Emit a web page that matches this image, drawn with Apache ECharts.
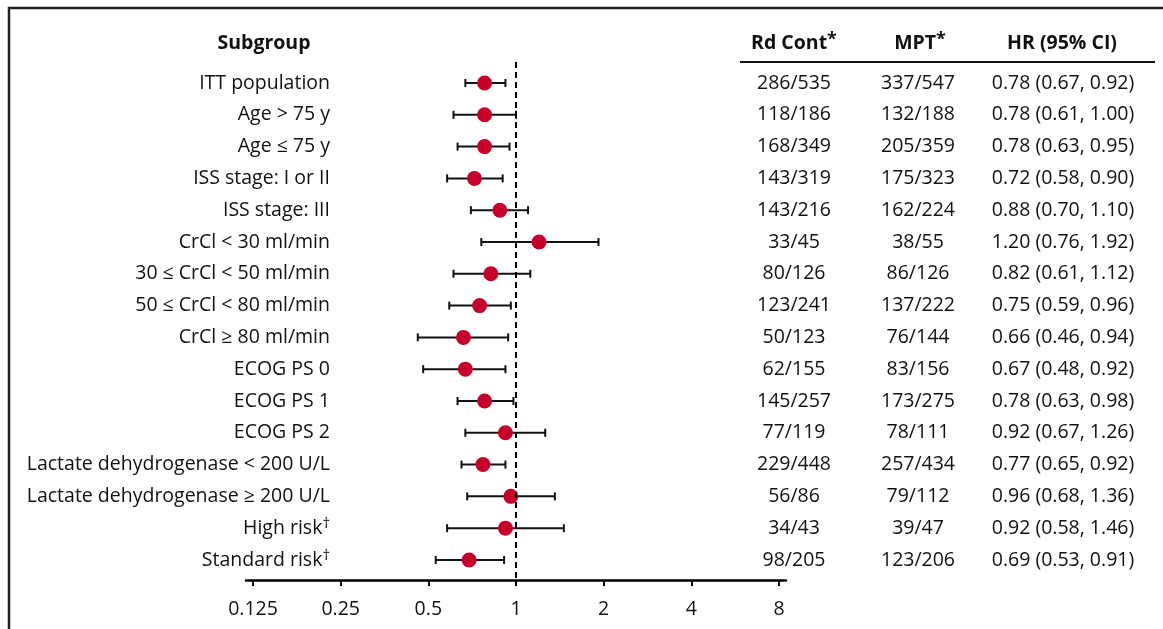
<!DOCTYPE html>
<html><head><meta charset="utf-8">
<script src="https://cdn.jsdelivr.net/npm/echarts@6/dist/echarts.min.js"></script>
<style>html,body{margin:0;padding:0;background:#fff}#c{width:1163px;height:629px}</style>
</head><body><div id="c"></div>
<script>
const subgroups = ['ITT population','Age > 75 y','Age ≤ 75 y','ISS stage: I or II','ISS stage: III','CrCl < 30 ml/min','30 ≤ CrCl < 50 ml/min','50 ≤ CrCl < 80 ml/min','CrCl ≥ 80 ml/min','ECOG PS 0','ECOG PS 1','ECOG PS 2','Lactate dehydrogenase < 200 U/L','Lactate dehydrogenase ≥ 200 U/L','High risk†','Standard risk†'];
const rdCont = ['286/535','118/186','168/349','143/319','143/216','33/45','80/126','123/241','50/123','62/155','145/257','77/119','229/448','56/86','34/43','98/205'];
const mpt = ['337/547','132/188','205/359','175/323','162/224','38/55','86/126','137/222','76/144','83/156','173/275','78/111','257/434','79/112','39/47','123/206'];
const hr = [0.78,0.78,0.78,0.72,0.88,1.20,0.82,0.75,0.66,0.67,0.78,0.92,0.77,0.96,0.92,0.69];
const lo = [0.67,0.61,0.63,0.58,0.70,0.76,0.61,0.59,0.46,0.48,0.63,0.67,0.65,0.68,0.58,0.53];
const hi = [0.92,1.00,0.95,0.90,1.10,1.92,1.12,0.96,0.94,0.92,0.98,1.26,0.92,1.36,1.46,0.91];
const xTicks = [0.125,0.25,0.5,1,2,4,8];
const headers = ['Subgroup','Rd Cont','MPT','HR (95% CI)'];

const FONT = '"Open Sans"';
const FS = 19.5;
const TXT = '#111';
const hrText = hr.map((v,i)=>v.toFixed(2)+' ('+lo[i].toFixed(2)+', '+hi[i].toFixed(2)+')');

const chart = echarts.init(document.getElementById('c'));
const supRich = {
  n:{fontSize:FS, fontFamily:FONT, color:TXT, lineHeight:24, verticalAlign:'middle'},
  sup:{fontSize:15, fontFamily:FONT, color:TXT, lineHeight:14, verticalAlign:'top'}
};
function colAxis(data, offset){
  return {type:'category', gridIndex:2, data:data, inverse:true, position:'left', offset:offset,
    axisLine:{show:false}, axisTick:{show:false}, splitLine:{show:false},
    axisLabel:{interval:0, margin:0, align:'center', fontFamily:FONT, fontSize:FS, color:TXT}};
}
const headRich = {
  n:{fontSize:FS, fontWeight:'bold', fontFamily:FONT, fill:TXT, lineHeight:24, verticalAlign:'middle'},
  s:{fontSize:18, fontWeight:'bold', fontFamily:FONT, fill:TXT, lineHeight:14, verticalAlign:'top'}
};
const option = {
  animation:false,
  backgroundColor:'#fff',
  grid:[
    {left:253, width:526, top:62, height:518},
    {left:246, width:540, top:62, height:518},
    {left:332, right:0, top:67.1, height:508.8}
  ],
  xAxis:[
    {type:'log', logBase:2, gridIndex:0, min:xTicks[0], max:xTicks[xTicks.length-1], splitNumber:6,
      axisLine:{show:false, onZero:false}, splitLine:{show:false},
      axisTick:{show:true, length:6, lineStyle:{color:'#000', width:2}},
      axisLabel:{margin:19, fontFamily:FONT, fontSize:FS, color:TXT, formatter:v=>String(+v.toPrecision(6))}},
    {type:'value', gridIndex:1, min:0, max:1, axisLine:{show:true, onZero:false, lineStyle:{color:'#000', width:2.5}},
      axisTick:{show:false}, axisLabel:{show:false}, splitLine:{show:false}},
    {type:'value', gridIndex:2, show:false}
  ],
  yAxis:[
    {type:'value', gridIndex:0, inverse:true, min:-0.66, max:15.63, show:false},
    {type:'value', gridIndex:1, show:false},
    {type:'category', gridIndex:2, data:subgroups, inverse:true, position:'left', offset:0,
      axisLine:{show:false}, axisTick:{show:false}, splitLine:{show:false},
      axisLabel:{interval:0, margin:2, fontFamily:FONT, fontSize:FS, color:TXT,
        formatter:v=>v.endsWith('†') ? '{n|'+v.slice(0,-1)+'}{sup|†}' : v, rich:supRich}},
    colAxis(rdCont, -462),
    colAxis(mpt, -586),
    colAxis(hrText, -731)
  ],
  graphic:[
    {type:'polyline', shape:{points:[[9,629],[9,8],[1163,8]]}, style:{stroke:'#222', lineWidth:2.5, fill:null}},
    {type:'line', shape:{x1:740,y1:62,x2:1155,y2:62}, style:{stroke:'#111', lineWidth:2}},
    {type:'text', x:264, y:43, style:{text:headers[0], fontFamily:FONT, fontWeight:'bold', fontSize:FS, fill:TXT, align:'center', verticalAlign:'middle'}},
    {type:'text', x:794, y:43, style:{text:'{n|'+headers[1]+'}{s|*}', fontFamily:FONT, fontWeight:'bold', fontSize:FS, fill:TXT, align:'center', verticalAlign:'middle', rich:headRich}},
    {type:'text', x:920, y:43, style:{text:'{n|'+headers[2]+'}{s|*}', fontFamily:FONT, fontWeight:'bold', fontSize:FS, fill:TXT, align:'center', verticalAlign:'middle', rich:headRich}},
    {type:'text', x:1062, y:43, style:{text:headers[3], fontFamily:FONT, fontWeight:'bold', fontSize:FS, fill:TXT, align:'center', verticalAlign:'middle'}}
  ],
  series:[
    {type:'custom', xAxisIndex:0, yAxisIndex:0, z:2,
      data: hr.map((v,i)=>[lo[i], hi[i], i]),
      encode:{x:[0,1], y:2},
      renderItem:function(params, api){
        const y = api.value(2);
        const p1 = api.coord([api.value(0), y]);
        const p2 = api.coord([api.value(1), y]);
        const h = 4;
        const st = {stroke:'#111', lineWidth:2};
        return {type:'group', children:[
          {type:'line', shape:{x1:p1[0],y1:p1[1],x2:p2[0],y2:p2[1]}, style:st},
          {type:'line', shape:{x1:p1[0],y1:p1[1]-h,x2:p1[0],y2:p1[1]+h}, style:st},
          {type:'line', shape:{x1:p2[0],y1:p2[1]-h,x2:p2[0],y2:p2[1]+h}, style:st}
        ]};
      }},
    {type:'scatter', xAxisIndex:0, yAxisIndex:0, z:3,
      data: hr.map((v,i)=>[v,i]), symbol:'circle', symbolSize:15,
      itemStyle:{color:'#c4002b', opacity:1},
      markLine:{silent:true, symbol:'none', label:{show:false},
        lineStyle:{color:'#000', width:2, type:[6,4]},
        data:[{xAxis:1}]}}
  ]
};
chart.setOption(option);
</script></body></html>
